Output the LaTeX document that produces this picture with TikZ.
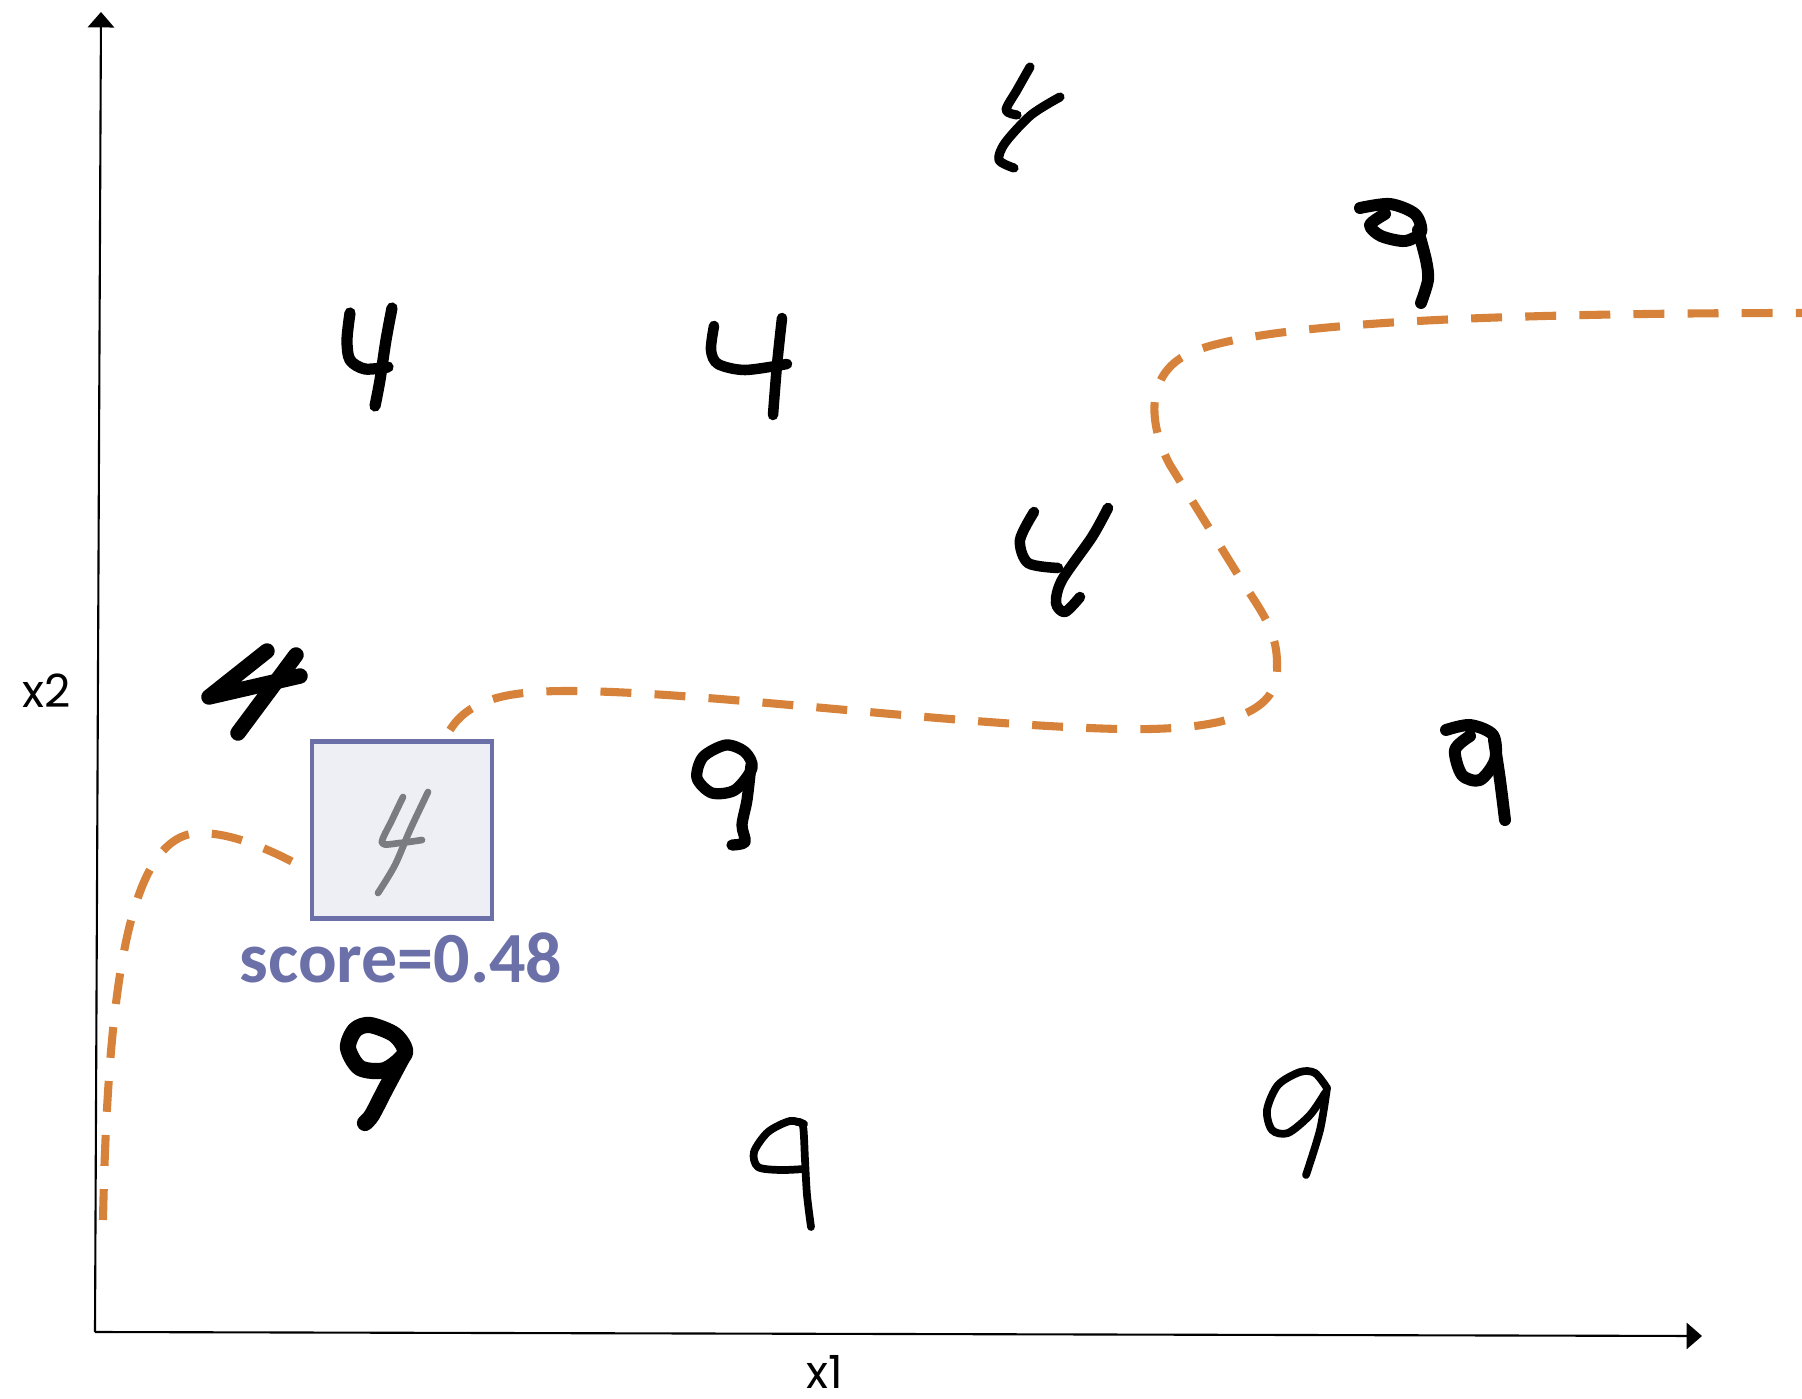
\documentclass[tikz,border=0pt]{standalone}
\usepackage{fontspec}
\newfontfamily\axisfont{Poppins}
\newfontfamily\scorefont{Carlito}
\usetikzlibrary{arrows.meta}
\definecolor{bndorange}{RGB}{214,130,58}
\definecolor{probeblue}{RGB}{107,112,168}
\definecolor{probefill}{RGB}{238,239,245}
\definecolor{probeink}{RGB}{122,124,130}
\begin{document}
\begin{tikzpicture}[x=0.1mm,y=-0.1mm,
    axis/.style={line width=0.6pt,-{Triangle[length=4.4pt,width=7.5pt]}},
    boundary/.style={bndorange,line width=2.3pt,dash pattern=on 8.8pt off 6.6pt},
    ink/.style={line cap=round,line join=round},
    lbl/.style={font=\axisfont\fontsize{13}{15}\selectfont,inner sep=0pt}]
\useasboundingbox (0,0) rectangle (1802,1399);

% axes
\coordinate (origin) at (95,1332);
\coordinate (xend) at (1702,1336);
\coordinate (yend) at (101,12);
\draw[axis] (origin) -- (xend);
\draw[axis] (origin) -- (yend);
\node[lbl,anchor=base] (xlab) at (825,1388) {x1};
\node[lbl,anchor=base] (ylab) at (47,707) {x2};

% decision boundary
\draw[boundary] (103,1220) .. controls (108,980) and (130,833) .. (200,833)
    .. controls (235,833) and (275,852) .. (308,870);
\draw[boundary] (450,730) .. controls (470,698) and (510,691) .. (568,691)
    .. controls (700,691) and (950,725) .. (1119,729)
    .. controls (1220,731) and (1280,715) .. (1277,667)
    .. controls (1278,630) and (1260,610) .. (1240,578) -- (1170,465)
    .. controls (1152,432) and (1140,376) .. (1190,353)
    .. controls (1250,326) and (1450,313) .. (1802,313);

% digits: fours
\draw[ink,line width=2.6pt] plot[smooth] coordinates {(1030,67) (1017,90) (1006,110) (1017,115)};
\draw[ink,line width=2.6pt] plot[smooth] coordinates {(1060,97) (1031,115) (1005,143) (999,160) (1014,168)};
\draw[ink,line width=3.2pt] plot[smooth] coordinates {(350,313) (347,340) (350,360) (365,369) (388,367)};
\draw[ink,line width=3.2pt] plot[smooth] coordinates {(392,308) (386,340) (380,380) (375,406)};
\draw[ink,line width=3pt] plot[smooth] coordinates {(714,326) (711,350) (718,364) (745,370) (787,364)};
\draw[ink,line width=3pt] plot[smooth] coordinates {(782,318) (777,365) (773,415)};
\draw[ink,line width=3pt] plot[smooth] coordinates {(1034,512) (1020,540) (1028,563) (1058,568)};
\draw[ink,line width=3pt] plot[smooth] coordinates {(1108,508) (1092,537) (1062,580) (1056,603) (1065,612) (1080,597)};
\draw[ink,line width=4.4pt] plot coordinates {(267,651) (209,697) (300,676)};
\draw[ink,line width=4.4pt] (296,655) -- (238,733);

% digits: nines
\draw[ink,line width=3.4pt] plot[smooth] coordinates {(1360,208) (1390,204) (1415,214) (1421,232) (1405,241) (1381,236) (1370,225) (1385,214)};
\draw[ink,line width=3.4pt] plot[smooth] coordinates {(1418,230) (1426,260) (1428,280) (1421,303)};
\draw[ink,line width=3.2pt] plot[smooth cycle] coordinates {(726,745) (745,752) (752,768) (735,790) (712,793) (697,778) (703,757)};
\draw[ink,line width=3.2pt] plot[smooth] coordinates {(751,765) (747,800) (742,825) (745,842) (732,845)};
\draw[ink,line width=4.6pt] plot[smooth cycle] coordinates {(370,1025) (395,1035) (405,1053) (385,1070) (360,1068) (348,1048) (355,1030)};
\draw[ink,line width=4.6pt] plot[smooth] coordinates {(402,1058) (385,1090) (372,1115) (365,1123)};
\draw[ink,line width=2.2pt] plot[smooth] coordinates {(804,1124) (790,1121) (768,1132) (754,1152) (758,1167) (780,1170) (804,1169)};
\draw[ink,line width=2.2pt] plot[smooth] coordinates {(797,1122) (803,1126) (805,1160) (807,1195) (811,1227)};
\draw[ink,line width=2.2pt] plot[smooth] coordinates {(1327,1088) (1315,1073) (1300,1072) (1278,1085) (1267,1110) (1272,1130) (1288,1133) (1310,1115) (1325,1093)};
\draw[ink,line width=2.2pt] plot[smooth] coordinates {(1327,1088) (1320,1130) (1306,1175)};
\draw[ink,line width=3.4pt] plot[smooth] coordinates {(1446,730) (1470,725) (1493,735) (1495,760) (1480,780) (1462,775) (1455,750) (1470,736)};
\draw[ink,line width=3.4pt] plot[smooth] coordinates {(1494,740) (1500,780) (1505,820)};

% probe sample
\node[draw=probeblue,fill=probefill,line width=1.4pt,minimum width=18mm,minimum height=17.7mm,inner sep=0pt] (probe) at (402,830) {};
\draw[ink,probeink,line width=1.9pt] plot[smooth] coordinates {(403,797) (392,820) (382,843) (400,843) (422,840)};
\draw[ink,probeink,line width=1.9pt] plot[smooth] coordinates {(428,792) (410,830) (395,865) (378,893)};
\node[probeblue,font=\scorefont\fontsize{20.5}{24}\selectfont\bfseries,anchor=base,inner sep=0pt] (score) at (401,982) {score=0.48};
\end{tikzpicture}
\end{document}
